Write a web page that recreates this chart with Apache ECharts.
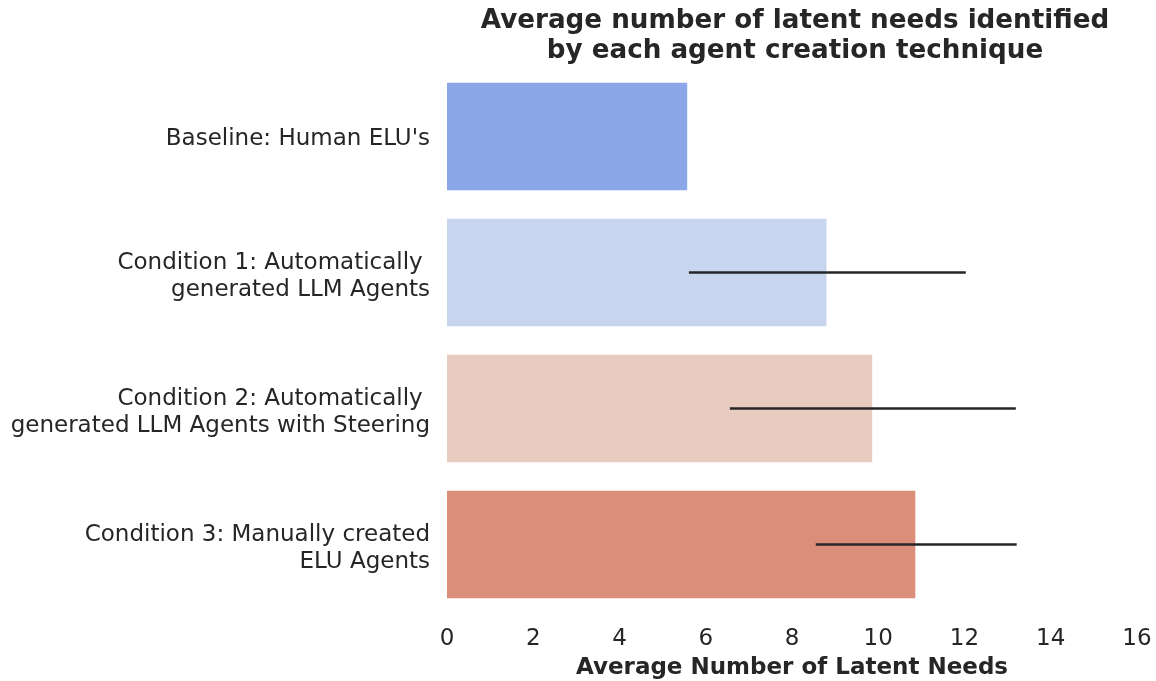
<!DOCTYPE html>
<html>
<head>
<meta charset="utf-8">
<script src="https://cdn.jsdelivr.net/npm/echarts@6/dist/echarts.min.js"></script>
<style>html,body{margin:0;padding:0;background:#fff;}#main{width:1156px;height:681px;}</style>
</head>
<body>
<div id="main"></div>
<script>
const categories = [
  "Baseline: Human ELU's",
  "Condition 1: Automatically \ngenerated LLM Agents",
  "Condition 2: Automatically \ngenerated LLM Agents with Steering",
  "Condition 3: Manually created\nELU Agents"
];
const means = [5.57, 8.80, 9.86, 10.86];
const errLow = [null, 5.61, 6.56, 8.55];
const errHigh = [null, 12.03, 13.19, 13.21];
const barColors = ['#8BA7E8', '#C7D5EE', '#E8CCBF', '#DB8E79'];
const xTicks = [0, 2, 4, 6, 8, 10, 12, 14, 16];

const errData = [];
for (let i = 0; i < categories.length; i++) {
  if (errLow[i] !== null) errData.push([i, errLow[i], errHigh[i]]);
}

const chart = echarts.init(document.getElementById('main'), null, {renderer: 'canvas'});
const fam = "'DejaVu Sans', sans-serif";
chart.setOption({
  backgroundColor: '#ffffff',
  animation: false,
  title: {
    text: 'Average number of latent needs identified\nby each agent creation technique',
    left: 790, top: 1, textAlign: 'center',
    textStyle: {fontFamily: fam, fontWeight: 'bold', fontSize: 26.2, color: '#262626', lineHeight: 30}
  },
  grid: {left: 447, right: 19, top: 68.5, bottom: 68.5, containLabel: false, outerBoundsMode: 'none'},
  xAxis: {
    type: 'value', min: 0, max: 16, interval: 2,
    axisLine: {show: false}, axisTick: {show: false}, splitLine: {show: false},
    axisLabel: {fontFamily: fam, fontSize: 23, color: '#262626', margin: 15,
      formatter: v => xTicks.includes(v) ? String(v) : ''},
    name: 'Average Number of Latent Needs', nameLocation: 'middle', nameGap: 44,
    nameTextStyle: {fontFamily: fam, fontWeight: 'bold', fontSize: 23, color: '#262626'}
  },
  yAxis: {
    type: 'category', data: categories, inverse: true,
    axisLine: {show: false}, axisTick: {show: false}, splitLine: {show: false},
    axisLabel: {
      fontFamily: fam, fontSize: 23, color: '#262626', margin: 17, lineHeight: 27, align: 'right',
      formatter: v => (v.indexOf('\n') >= 0 ? '{sp2| }\n' : '{sp1| }\n') + v,
      rich: {
        sp1: {fontSize: 1, lineHeight: 6},
        sp2: {fontSize: 1, lineHeight: 9}
      }
    }
  },
  series: [
    {
      type: 'bar', barWidth: '79%',
      data: means.map((v, i) => ({value: v, itemStyle: {color: barColors[i]}})),
      z: 1
    },
    {
      type: 'custom',
      data: errData,
      encode: {y: 0, x: [1, 2]},
      z: 5,
      renderItem: function (params, api) {
        const c = api.value(0);
        const p1 = api.coord([api.value(1), c]);
        const p2 = api.coord([api.value(2), c]);
        return {
          type: 'line',
          shape: {x1: p1[0], y1: p1[1], x2: p2[0], y2: p2[1]},
          style: {stroke: '#262626', lineWidth: 2.6}
        };
      }
    }
  ]
});
</script>
</body>
</html>
